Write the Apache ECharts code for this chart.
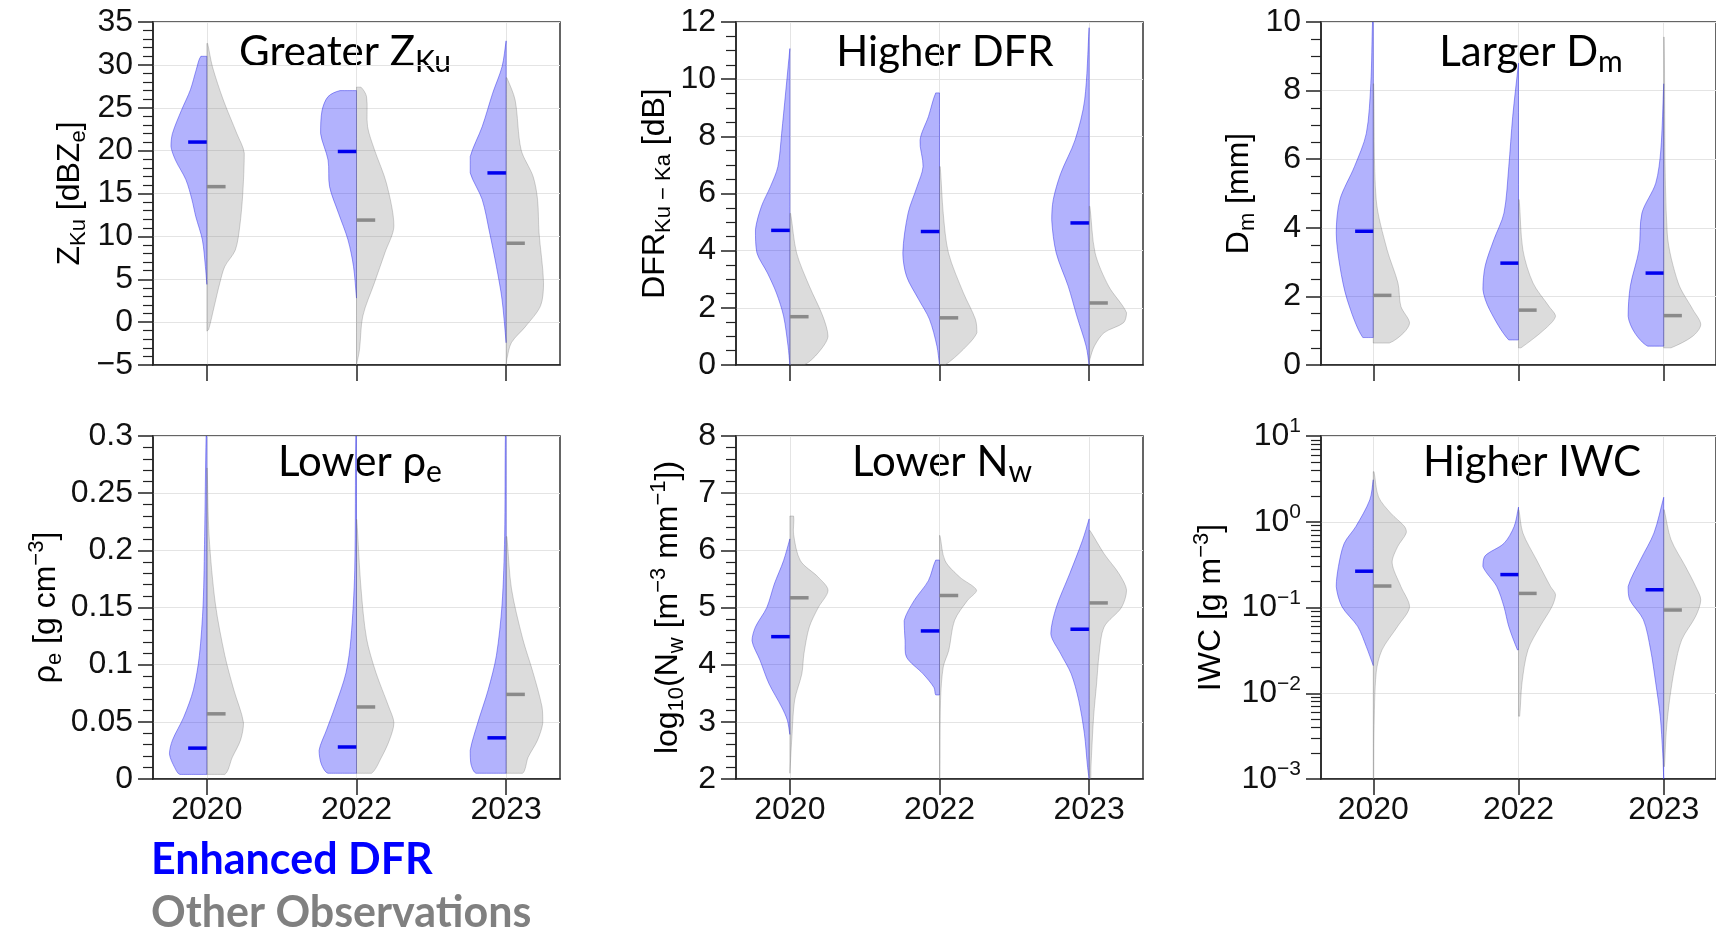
<!DOCTYPE html>
<html>
<head>
<meta charset="utf-8">
<script src="https://cdn.jsdelivr.net/npm/echarts@6/dist/echarts.min.js"></script>
<style>
html, body { margin: 0; padding: 0; background: #fff; }
#main { width: 1716px; height: 935px; }
</style>
</head>
<body>
<div id="main"></div>
<script>
var years = ['2020', '2022', '2023'];

// violin outlines: [value, half width in category units], listed top to bottom
// Z_Ku [dBZe]
var zkuEnhanced = [
    [[31, 0.04], [29.5, 0.07], [27.1, 0.11], [24.7, 0.17], [22, 0.23], [20.5, 0.24], [18.9, 0.21], [16.6, 0.14], [14.3, 0.1], [12.3, 0.074], [9.6, 0.03], [6.5, 0.01], [4.4, 0]],
    [[27, 0.11], [26.3, 0.19], [24.7, 0.23], [22, 0.24], [18.9, 0.19], [15.8, 0.18], [12.7, 0.12], [9.6, 0.057], [6.5, 0.02], [2.8, 0]],
    [[32.8, 0], [29.8, 0.027], [26.7, 0.09], [22.8, 0.16], [19.3, 0.24], [17.4, 0.24], [14.3, 0.16], [10.4, 0.11], [6.5, 0.065], [2.6, 0.027], [-2.4, 0]]
];
var zkuOther = [
    [[32.5, 0.005], [29.8, 0.037], [25.9, 0.11], [22, 0.2], [19.7, 0.25], [15, 0.24], [11.2, 0.22], [8.4, 0.19], [6.5, 0.12], [4.6, 0.087], [1.9, 0.05], [-0.85, 0.012], [-1.05, 0]],
    [[27.4, 0.03], [26.3, 0.067], [22.8, 0.074], [20.1, 0.12], [16.2, 0.2], [11.2, 0.25], [8.1, 0.19], [4.6, 0.12], [0.7, 0.042], [-3.2, 0.02], [-5, 0]],
    [[28.5, 0.005], [25.9, 0.06], [20.1, 0.1], [17, 0.18], [14.3, 0.21], [10.4, 0.22], [4.6, 0.25], [1.9, 0.23], [-0.5, 0.13], [-2.4, 0.035], [-4.3, 0.005], [-5, 0]]
];
var zkuEnhancedMedian = [21.0, 19.9, 17.4];
var zkuOtherMedian = [15.8, 11.9, 9.2];

// DFR Ku-Ka [dB]
var dfrEnhanced = [
    [[11.07, 0], [8.1, 0.055], [6.94, 0.08], [6.24, 0.13], [5.55, 0.19], [4.73, 0.23], [3.92, 0.22], [3.22, 0.15], [2.52, 0.09], [1.71, 0.042], [0.66, 0.012], [0, 0]],
    [[9.52, 0.025], [8.69, 0.074], [7.87, 0.13], [6.94, 0.11], [6.24, 0.15], [5.31, 0.21], [3.92, 0.245], [3.1, 0.22], [2.3, 0.14], [1.6, 0.067], [0.66, 0.017], [0, 0]],
    [[11.8, 0], [9.27, 0.03], [7.87, 0.094], [6.7, 0.19], [5.78, 0.24], [5.08, 0.25], [3.92, 0.22], [2.76, 0.14], [1.71, 0.082], [0.66, 0.02], [0, 0]]
];
var dfrOther = [
    [[5.3, 0.005], [3.92, 0.045], [2.76, 0.13], [1.71, 0.22], [1.0, 0.255], [0.43, 0.19], [0, 0.095]],
    [[6.94, 0.005], [5.3, 0.025], [3.92, 0.06], [2.52, 0.16], [1.6, 0.24], [1.13, 0.25], [0.55, 0.16], [0, 0.037]],
    [[5.55, 0.005], [3.92, 0.04], [2.76, 0.13], [1.83, 0.25], [1.48, 0.23], [1.13, 0.1], [0.66, 0.035], [0.2, 0.005], [0, 0]]
];
var dfrEnhancedMedian = [4.71, 4.67, 4.97];
var dfrOtherMedian = [1.69, 1.65, 2.17];

// Dm [mm]
var dmEnhanced = [
    [[10, 0.005], [8.2, 0.017], [6.75, 0.048], [5.78, 0.13], [4.82, 0.23], [3.85, 0.255], [2.88, 0.23], [1.91, 0.18], [0.8, 0.072]],
    [[8.8, 0], [7.24, 0.04], [5.78, 0.067], [4.43, 0.1], [3.65, 0.17], [2.88, 0.23], [2.2, 0.245], [1.62, 0.2], [0.73, 0.067]],
    [[8.2, 0], [6.27, 0.02], [5.3, 0.055], [4.43, 0.15], [3.36, 0.17], [2.3, 0.23], [1.42, 0.245], [0.94, 0.2], [0.55, 0.11]]
];
var dmOther = [
    [[8.2, 0.003], [4.82, 0.02], [3.36, 0.095], [2.39, 0.17], [1.71, 0.19], [1.23, 0.25], [0.94, 0.21], [0.64, 0.11]],
    [[4.82, 0.005], [3.36, 0.03], [2.39, 0.1], [1.71, 0.21], [1.42, 0.255], [1.04, 0.18], [0.5, 0.017]],
    [[9.56, 0.003], [3.85, 0.024], [2.39, 0.1], [1.62, 0.2], [1.18, 0.255], [0.84, 0.2], [0.5, 0.05]]
];
var dmEnhancedMedian = [3.9, 2.97, 2.68];
var dmOtherMedian = [2.03, 1.6, 1.44];

// rho_e [g cm-3]
var rhoEnhanced = [
    [[0.3, 0.005], [0.212, 0.015], [0.153, 0.025], [0.108, 0.05], [0.078, 0.09], [0.054, 0.155], [0.034, 0.23], [0.022, 0.25], [0.01, 0.215], [0.004, 0.18]],
    [[0.3, 0.005], [0.182, 0.012], [0.123, 0.037], [0.093, 0.07], [0.063, 0.144], [0.043, 0.2], [0.025, 0.25], [0.013, 0.235], [0.005, 0.19]],
    [[0.3, 0.005], [0.212, 0.01], [0.153, 0.027], [0.108, 0.065], [0.078, 0.12], [0.049, 0.19], [0.025, 0.24], [0.013, 0.235], [0.005, 0.2]]
];
var rhoOther = [
    [[0.272, 0.002], [0.212, 0.015], [0.153, 0.057], [0.108, 0.12], [0.078, 0.18], [0.049, 0.245], [0.034, 0.225], [0.019, 0.17], [0.004, 0.12]],
    [[0.227, 0.002], [0.167, 0.03], [0.123, 0.067], [0.093, 0.13], [0.063, 0.216], [0.049, 0.25], [0.034, 0.22], [0.019, 0.167], [0.005, 0.1]],
    [[0.212, 0.005], [0.167, 0.035], [0.123, 0.11], [0.093, 0.18], [0.063, 0.24], [0.049, 0.245], [0.034, 0.21], [0.019, 0.147], [0.005, 0.11]]
];
var rhoEnhancedMedian = [0.027, 0.028, 0.036];
var rhoOtherMedian = [0.057, 0.063, 0.074];

// log10(Nw)
var nwEnhanced = [
    [[6.2, 0], [5.82, 0.042], [5.41, 0.104], [5.0, 0.154], [4.66, 0.23], [4.42, 0.253], [4.08, 0.2], [3.67, 0.14], [3.26, 0.055], [3.03, 0.017], [2.78, 0]],
    [[5.83, 0.025], [5.47, 0.074], [5.12, 0.17], [4.77, 0.236], [4.42, 0.23], [4.13, 0.22], [3.84, 0.11], [3.6, 0.037], [3.47, 0.025]],
    [[6.55, 0], [6.17, 0.045], [5.59, 0.13], [5.0, 0.22], [4.54, 0.256], [4.19, 0.19], [3.84, 0.12], [3.38, 0.07], [2.8, 0.032], [2.2, 0.01], [2.0, 0]]
];
var nwOther = [
    [[6.6, 0.025], [6.28, 0.025], [5.82, 0.07], [5.53, 0.19], [5.3, 0.255], [5.0, 0.19], [4.66, 0.13], [4.19, 0.094], [3.84, 0.08], [3.38, 0.032], [2.8, 0.015], [2.1, 0]],
    [[6.26, 0.003], [5.82, 0.037], [5.53, 0.136], [5.3, 0.248], [5.12, 0.186], [4.77, 0.1], [4.25, 0.062], [3.96, 0.025], [3.38, 0.007], [2.0, 0.003]],
    [[6.35, 0.005], [5.94, 0.1], [5.59, 0.2], [5.3, 0.25], [5.0, 0.216], [4.66, 0.1], [4.19, 0.067], [3.67, 0.05], [3.09, 0.03], [2.2, 0.012], [2.0, 0.01]]
];
var nwEnhancedMedian = [4.49, 4.59, 4.62];
var nwOtherMedian = [5.17, 5.21, 5.08];

// IWC [g m-3]
var iwcEnhanced = [
    [[3.09, 0], [1.8, 0.024], [0.88, 0.12], [0.56, 0.2], [0.3, 0.24], [0.176, 0.255], [0.102, 0.215], [0.06, 0.107], [0.035, 0.048], [0.021, 0]],
    [[1.48, 0], [0.88, 0.03], [0.56, 0.1], [0.4, 0.23], [0.3, 0.245], [0.176, 0.15], [0.102, 0.1], [0.06, 0.067], [0.032, 0.007]],
    [[1.93, 0], [0.74, 0.067], [0.36, 0.16], [0.176, 0.245], [0.123, 0.234], [0.072, 0.14], [0.032, 0.09], [0.0132, 0.055], [0.0054, 0.024], [0.002, 0.007], [0.001, 0]]
];
var iwcOther = [
    [[3.84, 0.005], [1.95, 0.036], [1.26, 0.12], [0.88, 0.215], [0.74, 0.227], [0.51, 0.167], [0.33, 0.13], [0.176, 0.19], [0.102, 0.25], [0.06, 0.167], [0.032, 0.06], [0.0174, 0.02], [0.0035, 0.005], [0.001, 0.003]],
    [[1.38, 0.003], [0.74, 0.03], [0.36, 0.124], [0.176, 0.22], [0.141, 0.255], [0.102, 0.23], [0.06, 0.148], [0.032, 0.065], [0.0132, 0.024], [0.0054, 0.008]],
    [[1.38, 0.003], [0.62, 0.05], [0.3, 0.15], [0.176, 0.22], [0.123, 0.255], [0.079, 0.22], [0.042, 0.124], [0.02, 0.076], [0.0083, 0.04], [0.0035, 0.017], [0.0014, 0.005]]
];
var iwcEnhancedMedian = [0.265, 0.242, 0.161];
var iwcOtherMedian = [0.178, 0.146, 0.0935];

var iwcMinorTicks = [0.002, 0.003, 0.004, 0.005, 0.006, 0.007, 0.008, 0.009,
    0.02, 0.03, 0.04, 0.05, 0.06, 0.07, 0.08, 0.09,
    0.2, 0.3, 0.4, 0.5, 0.6, 0.7, 0.8, 0.9,
    2, 3, 4, 5, 6, 7, 8, 9];

var LBL = 'Liberation Sans';
var TTL = 'Lato';
var richSub = { fontFamily: LBL, fontSize: 22, lineHeight: 24, verticalAlign: 'bottom', color: '#000' };
var richSup = { fontFamily: LBL, fontSize: 22, lineHeight: 22, verticalAlign: 'top', color: '#000' };

function minusFmt(v) {
    return v < 0 ? '\u2212' + (-v) : String(v);
}

var panels = [
    { enh: zkuEnhanced, oth: zkuOther, medE: zkuEnhancedMedian, medO: zkuOtherMedian,
      min: -5, max: 35, interval: 5, minor: 5, name: 'Z{s|Ku} [dBZ{s|e}]', nameGap: 63, fmt: minusFmt },
    { enh: dfrEnhanced, oth: dfrOther, medE: dfrEnhancedMedian, medO: dfrOtherMedian,
      min: 0, max: 12, interval: 2, minor: 4, name: 'DFR{s|Ku \u2212 Ka} [dB]', nameGap: 61 },
    { enh: dmEnhanced, oth: dmOther, medE: dmEnhancedMedian, medO: dmOtherMedian,
      min: 0, max: 10, interval: 2, minor: 4, name: 'D{s|m} [mm]', nameGap: 62 },
    { enh: rhoEnhanced, oth: rhoOther, medE: rhoEnhancedMedian, medO: rhoOtherMedian,
      min: 0, max: 0.3, interval: 0.05, minor: 5, name: '\u03c1{s|e} [g cm{p|\u22123}]', nameGap: 87 },
    { enh: nwEnhanced, oth: nwOther, medE: nwEnhancedMedian, medO: nwOtherMedian,
      min: 2, max: 8, interval: 1, minor: 5, name: 'log{s|10}(N{s|w} [m{p|\u22123} mm{p|\u22121}])', nameGap: 48 },
    { enh: iwcEnhanced, oth: iwcOther, medE: iwcEnhancedMedian, medO: iwcOtherMedian,
      log: true, min: 0.001, max: 10, name: 'IWC [g m{p|\u22123}]', nameGap: 90 }
];

var gridLefts = [153, 736, 1321, 153, 736, 1321];
var gridTops = [22, 22, 22, 436, 436, 436];

var grids = panels.map(function (p, g) {
    return {
        left: gridLefts[g], top: gridTops[g], width: 407, height: 343,
        show: true, borderColor: '#333', borderWidth: 1.5, backgroundColor: 'transparent'
    };
});

var xAxes = panels.map(function (p, g) {
    return {
        type: 'value', gridIndex: g, min: -0.36, max: 2.36,
        axisLine: { onZero: false, lineStyle: { color: '#222', width: 1.5 } },
        axisTick: { customValues: [0, 1, 2], length: 16, lineStyle: { color: '#222', width: 1.5 } },
        axisLabel: {
            show: g >= 3, customValues: [0, 1, 2], margin: 15,
            fontFamily: LBL, fontSize: 32, color: '#111',
            formatter: function (v) { return years[Math.round(v)]; }
        },
        splitLine: { show: true, lineStyle: { color: '#e4e4e4', width: 1 } }
    };
});

var yAxes = panels.map(function (p, g) {
    var ax = {
        gridIndex: g, min: p.min, max: p.max, position: 'left',
        name: p.name, nameLocation: 'middle', nameGap: p.nameGap,
        nameTextStyle: { fontFamily: LBL, fontSize: 32, color: '#000', lineHeight: 40, rich: { s: richSub, p: richSup } },
        axisLine: { show: true, onZero: false, lineStyle: { color: '#222', width: 1.5 } },
        axisTick: { show: true, length: 15, lineStyle: { color: '#222', width: 1.5 } },
        axisLabel: { fontFamily: LBL, fontSize: 32, color: '#111', margin: 20 },
        splitLine: { show: true, lineStyle: { color: '#e4e4e4', width: 1 } }
    };
    if (p.log) {
        ax.type = 'log';
        ax.logBase = 10;
        ax.axisLabel.lineHeight = 40;
        ax.axisLabel.rich = { p: { fontFamily: LBL, fontSize: 21, lineHeight: 20, verticalAlign: 'top', color: '#111' } };
        ax.axisLabel.formatter = function (v) {
            var e = Math.round(Math.log(v) / Math.LN10);
            return '10{p|' + (e < 0 ? '\u2212' + (-e) : e) + '}';
        };
    } else {
        ax.type = 'value';
        ax.interval = p.interval;
        ax.minorTick = { show: true, splitNumber: p.minor, length: 10, lineStyle: { color: '#222', width: 1.2 } };
        if (p.fmt) ax.axisLabel.formatter = p.fmt;
    }
    return ax;
});
// minor ticks for the log axis
yAxes.push({
    type: 'log', logBase: 10, gridIndex: 5, min: 0.001, max: 10, position: 'left',
    axisLine: { show: false, onZero: false },
    axisTick: { show: true, customValues: iwcMinorTicks, length: 10, lineStyle: { color: '#222', width: 1.2 } },
    axisLabel: { show: false },
    splitLine: { show: false }
});

function violinSeries(g, profiles, medians, side, fill, edge, medColor) {
    return {
        type: 'custom', xAxisIndex: g, yAxisIndex: g, clip: true, silent: true,
        data: medians.map(function (m, i) { return [i, m]; }),
        encode: { x: 0, y: 1 },
        renderItem: function (params, api) {
            var i = api.value(0);
            var prof = profiles[i];
            var pts = [api.coord([i, prof[0][0]])];
            prof.forEach(function (q) {
                pts.push(api.coord([i + side * q[1], q[0]]));
            });
            pts.push(api.coord([i, prof[prof.length - 1][0]]));
            var a = api.coord([i, api.value(1)]);
            var b = api.coord([i + side * 0.125, api.value(1)]);
            return {
                type: 'group',
                children: [{
                    type: 'polygon',
                    shape: { points: pts, smooth: 0.3, smoothConstraint: [pts[0].slice(), pts[0].slice()] },
                    style: { fill: fill, stroke: edge, lineWidth: 1 }
                }, {
                    type: 'line',
                    shape: { x1: a[0], y1: a[1], x2: b[0], y2: b[1] },
                    style: { stroke: medColor, lineWidth: 3.5 }
                }]
            };
        }
    };
}

var series = [];
panels.forEach(function (p, g) {
    series.push(violinSeries(g, p.enh, p.medE, -1, 'rgba(20,20,250,0.33)', 'rgba(40,40,230,0.45)', '#0000ee'));
    series.push(violinSeries(g, p.oth, p.medO, 1, 'rgba(128,128,128,0.28)', 'rgba(110,110,110,0.3)', '#8a8a8a'));
});

var titleRich = { s: { fontFamily: TTL, fontSize: 30, lineHeight: 34, verticalAlign: 'bottom', fill: '#000' } };
function titleText(x, y, text) {
    return {
        type: 'text', x: x, y: y, silent: true,
        style: {
            text: text, fontFamily: TTL, fontSize: 42, lineHeight: 50, fill: '#000',
            align: 'center', verticalAlign: 'middle', rich: titleRich
        }
    };
}

var graphics = [
    titleText(345, 52, 'Greater Z{s|Ku}'),
    titleText(945, 52, 'Higher DFR'),
    titleText(1531, 52, 'Larger D{s|m}'),
    titleText(360, 462, 'Lower \u03c1{s|e}'),
    titleText(942, 462, 'Lower N{s|w}'),
    titleText(1532, 462, 'Higher IWC'),
    { type: 'text', x: 151, y: 860, silent: true,
      style: { text: 'Enhanced DFR', fontFamily: TTL, fontWeight: 'bold', fontSize: 43, fill: '#0000ff', align: 'left', verticalAlign: 'middle' } },
    { type: 'text', x: 151, y: 913, silent: true,
      style: { text: 'Other Observations', fontFamily: TTL, fontWeight: 'bold', fontSize: 43, fill: '#808080', align: 'left', verticalAlign: 'middle' } }
];

var myChart = echarts.init(document.getElementById('main'));
var option = {
    animation: false,
    backgroundColor: '#fff',
    grid: grids,
    xAxis: xAxes,
    yAxis: yAxes,
    series: series,
    graphic: graphics
};
myChart.setOption(option);
</script>
</body>
</html>
